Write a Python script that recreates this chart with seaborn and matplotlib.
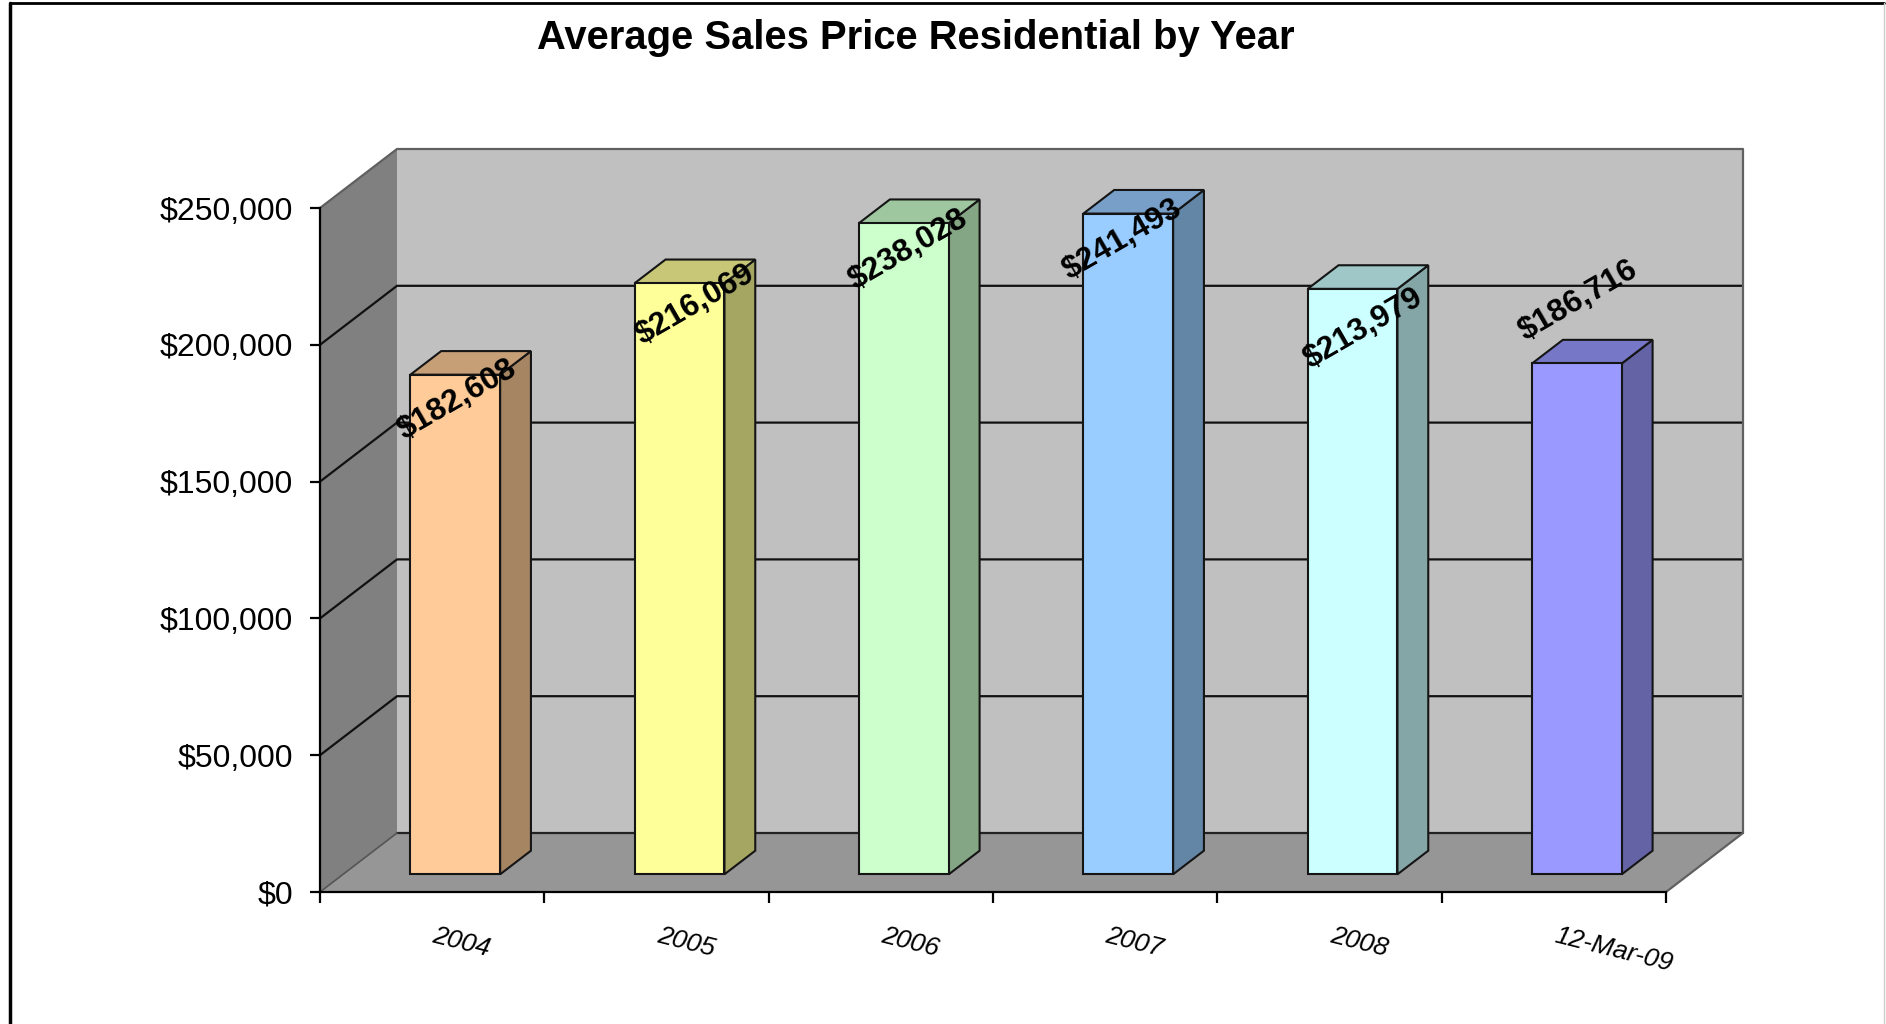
import numpy as np
import pandas as pd
import matplotlib
matplotlib.use("Agg")
import matplotlib.pyplot as plt
import seaborn as sns
from matplotlib.patches import Polygon, Rectangle
from matplotlib.lines import Line2D
from matplotlib.transforms import IdentityTransform, offset_copy, ScaledTranslation
from matplotlib.colors import to_rgb

# ---------------- data ----------------
CATEGORIES = ["2004", "2005", "2006", "2007", "2008", "12-Mar-09"]
VALUES = [182608, 216069, 238028, 241493, 213979, 186716]
Y_TICKS = [0, 50000, 100000, 150000, 200000, 250000]
FRONT_COLORS = ["#FFCC99", "#FFFF99", "#CCFFCC", "#99CCFF", "#CCFFFF", "#9999FF"]
TITLE = "Average Sales Price Residential by Year"

# ---------------- style ----------------
W, H = 1886, 1024
DEPTH = np.array([77.0, 59.0])        # 3D depth vector in pixels
BAR_FRONT = 0.30                       # depth fraction of bar front face
BAR_DEPTH = 0.40                       # depth fraction of bar thickness
LABEL_OFFSETS = [(2, -25), (16, -22), (4, -27), (-6, -26), (11, -40), (1, 63)]
WALL_BACK = "#C0C0C0"
WALL_SIDE = "#808080"
FLOOR = "#969696"

sns.set_theme(style="white")
plt.rcParams["font.family"] = ["Liberation Sans", "DejaVu Sans"]

fig = plt.figure(figsize=(W / 100, H / 100), dpi=100)
fig.patch.set_facecolor("white")
ax = fig.add_axes([320 / W, (H - 892) / H, (1666 - 320) / W, (892 - 208) / H])
ax.patch.set_visible(False)

df = pd.DataFrame({"Period": CATEGORIES, "Price": VALUES})
sns.barplot(data=df, x="Period", y="Price", hue="Period", palette=FRONT_COLORS,
            saturation=1, width=0.4, edgecolor="#151515", linewidth=1.5,
            legend=False, ax=ax)
bars = sorted([p for p in ax.patches if isinstance(p, Rectangle)],
              key=lambda p: p.get_x())

xmin, xmax = -0.5, len(CATEGORIES) - 0.5
ax.set_xlim(xmin, xmax)
ax.set_ylim(Y_TICKS[0], Y_TICKS[-1])


def P(x, y, d):
    return ax.transData.transform((x, y)) + d * DEPTH


ident = IdentityTransform()


def poly(pts, fc, ec="none", lw=0, z=0):
    p = Polygon(np.array(pts), closed=True, facecolor=fc, edgecolor=ec,
                linewidth=lw, transform=ident, clip_on=False, zorder=z)
    ax.add_patch(p)


def line(pts, color, lw, z=1):
    pts = np.array(pts)
    ax.add_line(Line2D(pts[:, 0], pts[:, 1], color=color, linewidth=lw,
                       transform=ident, clip_on=False, zorder=z))


ymax = Y_TICKS[-1]
# walls
poly([P(xmin, 0, 1), P(xmax, 0, 1), P(xmax, ymax, 1), P(xmin, ymax, 1)], WALL_BACK, z=0.1)
poly([P(xmin, 0, 0), P(xmin, 0, 1), P(xmin, ymax, 1), P(xmin, ymax, 0)], WALL_SIDE, z=0.1)
poly([P(xmin, 0, 0), P(xmax, 0, 0), P(xmax, 0, 1), P(xmin, 0, 1)], FLOOR, z=0.1)

# gridlines
for v in Y_TICKS:
    if 0 < v < ymax:
        line([P(xmin, v, 0), P(xmin, v, 1), P(xmax, v, 1)], "#111111", 1.6, z=0.5)
line([P(xmin, 0, 1), P(xmax, 0, 1)], "#222222", 1.6, z=0.5)
line([P(xmin, 0, 0), P(xmin, 0, 1)], "#555555", 1.2, z=0.5)
line([P(xmin, ymax, 0), P(xmin, ymax, 1), P(xmax, ymax, 1), P(xmax, 0, 1), P(xmax, 0, 0)],
     "#606060", 1.6, z=0.5)

# bars: front face shifted into depth, plus side and top faces
front_tr = offset_copy(ax.transData, fig=fig, x=BAR_FRONT * DEPTH[0],
                       y=BAR_FRONT * DEPTH[1], units="dots")
f, b = BAR_FRONT, BAR_FRONT + BAR_DEPTH
for i, bar in enumerate(bars):
    bar.set_transform(front_tr)
    bar.set_clip_on(False)
    bar.set_zorder(3)
    x0 = bar.get_x()
    x1 = x0 + bar.get_width()
    h = bar.get_height()
    base = np.array(to_rgb(FRONT_COLORS[i]))
    poly([P(x1, 0, f), P(x1, 0, b), P(x1, h, b), P(x1, h, f)], base * 0.65,
         ec="#151515", lw=1.5, z=2.5)
    poly([P(x0, h, f), P(x1, h, f), P(x1, h, b), P(x0, h, b)], base * 0.78,
         ec="#151515", lw=1.5, z=2.5)

# data labels
for i, v in enumerate(VALUES):
    xc = bars[i].get_x() + bars[i].get_width() / 2
    dx, dy = LABEL_OFFSETS[i]
    tr = offset_copy(ax.transData, fig=fig, x=BAR_FRONT * DEPTH[0] + dx,
                     y=BAR_FRONT * DEPTH[1] + dy, units="dots")
    ax.text(xc, v, f"${v:,.0f}", transform=tr, ha="center", va="center",
            rotation=30, fontsize=22.8, fontweight="bold", color="black",
            zorder=10, clip_on=False)

# axes styling
for side in ["top", "right"]:
    ax.spines[side].set_visible(False)
for side in ["left", "bottom"]:
    ax.spines[side].set_visible(True)
    ax.spines[side].set_color("black")
    ax.spines[side].set_linewidth(1.6)
    ax.spines[side].set_zorder(4)

ax.set_yticks(Y_TICKS)
ax.set_yticklabels([f"${v:,.0f}" for v in Y_TICKS])
ax.tick_params(axis="y", direction="out", length=7, width=1.6, color="black",
               pad=12.5, labelsize=23, labelcolor="black", left=True)

ax.set_xticks(np.arange(xmin, xmax + 0.01, 1.0))
ax.set_xticklabels([])
ax.set_xticks(np.arange(len(CATEGORIES)), minor=True)
ax.set_xticklabels(CATEGORIES, minor=True)
ax.tick_params(axis="x", which="major", direction="out", length=8, width=1.6,
               color="black", bottom=True)
ax.tick_params(axis="x", which="minor", length=0, pad=22.5, labelsize=19,
               labelcolor="black", bottom=True)
shift = ScaledTranslation(4 / 100, 0, fig.dpi_scale_trans)
for t in ax.get_xticklabels(minor=True):
    t.set_rotation(-14)
    t.set_ha("left")
    t.set_va("top")
    t.set_rotation_mode("anchor")
    t.set_fontstyle("italic")
    t.set_transform(t.get_transform() + shift)
ax.set_xlabel("")
ax.set_ylabel("")
ax.grid(False)

# title
fig.text(916 / W, 1 - 38 / H, TITLE, ha="center", va="center",
         fontsize=28.8, fontweight="bold", color="black")

# outer border
fig.add_artist(Line2D([10 / W, 10 / W], [0, 1 - 3 / H], color="black", lw=2.5,
                      transform=fig.transFigure))
fig.add_artist(Line2D([10 / W, 1884 / W], [1 - 3 / H, 1 - 3 / H], color="black", lw=2,
                      transform=fig.transFigure))
fig.add_artist(Line2D([1884 / W, 1884 / W], [0, 1 - 3 / H], color="#cccccc", lw=1,
                      transform=fig.transFigure))

fig.savefig("out.png", dpi=100)
